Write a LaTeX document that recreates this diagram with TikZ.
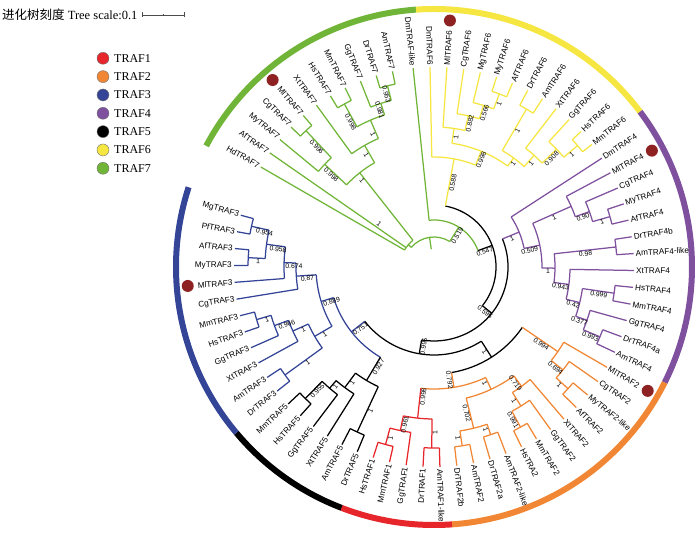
\documentclass[tikz,border=0pt]{standalone}
\usepackage{fontspec}
\setmainfont{Liberation Serif}
\newfontfamily\treefont{Liberation Sans}
\newfontfamily\cjkfont{Noto Sans CJK SC}
\usetikzlibrary{calc}

\definecolor{t1}{RGB}{230,38,42}
\definecolor{t2}{RGB}{241,135,52}
\definecolor{t3}{RGB}{52,68,150}
\definecolor{t4}{RGB}{126,80,158}
\definecolor{t5}{RGB}{0,0,0}
\definecolor{t6}{RGB}{246,230,66}
\definecolor{t7}{RGB}{112,181,56}
\definecolor{dotred}{RGB}{142,34,34}

\tikzset{
  branch/.style={line width=1.25pt},
  ring/.style={line width=6pt},
  leaflab/.style={font=\treefont\fontsize{8.2}{9}\selectfont,inner sep=1pt},
  support/.style={font=\treefont\fontsize{6.8}{7}\selectfont,inner sep=0.6pt},
  reddot/.style={circle,fill=dotred,minimum size=12pt,inner sep=0pt},
  legdot/.style={circle,draw=black!55,line width=0.4pt,minimum size=12pt,inner sep=0pt},
  legtext/.style={anchor=west,font=\fontsize{12}{13}\selectfont,inner sep=0pt},
}

% leaf: name, place on the ring, colour
\newcommand\leaf[3]{%
  \pgfmathsetmacro\lfang{leafang(#2)}%
  \expandafter\xdef\csname tra#1\endcsname{\lfang}%
  \expandafter\xdef\csname trc#1\endcsname{#3}%
  \expandafter\gdef\csname trl#1\endcsname{}%
  \coordinate (#1) at (\lfang:200);
  \pgfmathsetmacro\lfflip{cos(\lfang)<0 ? 180 : 0}%
  \ifdim\lfflip pt>1pt
    \node[leaflab,rotate=\lfang+180,anchor=east] (#1-l) at (\lfang:201) {#1};%
  \else
    \node[leaflab,rotate=\lfang,anchor=west] (#1-l) at (\lfang:201) {#1};%
  \fi
}
% clade: name, colour, radius, support, radius of support, children
\newcommand\clade[6]{%
  \gdef\cfirst{}%
  \foreach \kid in {#6}{%
    \ifx\cfirst\empty\xdef\cfirst{\kid}\fi
    \xdef\clast{\kid}}%
  \edef\aone{\csname tra\cfirst\endcsname}%
  \edef\atwo{\csname tra\clast\endcsname}%
  \pgfmathsetmacro\amid{(\aone+\atwo)/2}%
  \expandafter\xdef\csname tra#1\endcsname{\amid}%
  \expandafter\xdef\csname trc#1\endcsname{#2}%
  \expandafter\gdef\csname trl#1\endcsname{#4}%
  \expandafter\xdef\csname trb#1\endcsname{#5}%
  \coordinate (#1) at (\amid:#3);
  \draw[branch,color=#2] (\aone:#3) arc[start angle=\aone,end angle=\atwo,radius=#3];
  \foreach \kid in {#6}{%
    \edef\kidang{\csname tra\kid\endcsname}%
    \edef\kidcol{\csname trc\kid\endcsname}%
    \edef\kidlab{\csname trl\kid\endcsname}%
    \draw[branch,color=\kidcol] (\kidang:#3) -- (\kid);
    \ifx\kidlab\empty\else
      \edef\kidrad{\csname trb\kid\endcsname}%
      \pgfmathsetmacro\kidflip{cos(\kidang)<0 ? 180 : 0}%
      \node[support,rotate=\kidang+\kidflip,anchor=north] (\kid-s) at (\kidang:\kidrad) {\kidlab};
    \fi}%
}

\begin{document}
\begin{tikzpicture}[x=1pt,y=1pt,
  declare function={leafang(\q)=(\q<61.5)*(96-4.85*(\q-1))+(\q>61.5)*(150-4.8*(\q-62));}]
\useasboundingbox (-434,-267) rectangle (266,267);

% title and scale
\node[anchor=west,inner sep=0pt,font=\fontsize{12.5}{13}\selectfont] (title) at (-432,252) {{\cjkfont 进化树刻度} Tree scale:0.1};
\coordinate (sb1) at (-292,252);
\coordinate (sb2) at (-250,252);
\draw[black!70,line width=0.6pt] (sb1) -- (sb2);
\draw[black!70,line width=0.6pt] ($(sb1)+(0,-2.5)$) -- ($(sb1)+(0,2.5)$);
\draw[black!70,line width=0.6pt] ($(sb2)+(0,-2.5)$) -- ($(sb2)+(0,2.5)$);
\draw[black!70,line width=0.6pt] ($(sb1)!0.5!(sb2)+(0,-1.2)$) -- ($(sb1)!0.5!(sb2)+(0,1.2)$);

% legend
\foreach \k/\c in {1/t1,2/t2,3/t3,4/t4,5/t5,6/t6,7/t7} {
  \node[legdot,fill=\c] (leg\k) at (-331,{208.7-18.33*(\k-1)}) {};
  \node[legtext] (legt\k) at (-320,{208.7-18.33*(\k-1)}) {TRAF\k};
}

% outer ring
\draw[ring,t7] (94:258) arc[start angle=94,end angle=152,radius=258];
\draw[ring,t6] (37:258) arc[start angle=37,end angle=94,radius=258];
\draw[ring,t4] (-26.6:258) arc[start angle=-26.6,end angle=37,radius=258];
\draw[ring,t2] (-86:258) arc[start angle=-86,end angle=-26.6,radius=258];
\draw[ring,t1] (-111:258) arc[start angle=-111,end angle=-86,radius=258];
\draw[ring,t5] (-140:258) arc[start angle=-140,end angle=-111,radius=258];
\draw[ring,t3] (-198:258) arc[start angle=-198,end angle=-140,radius=258];

% leaves
\leaf{DmTRAF-like}{1}{t7}
\foreach \n [count=\i from 2] in {DmTRAF6,MlTRAF6,CgTRAF6,MgTRAF6,MyTRAF6,AfTRAF6,DrTRAF6,AmTRAF6,XtTRAF6,GgTRAF6,HsTRAF6,MmTRAF6}
  {\leaf{\n}{\i}{t6}}
\foreach \n [count=\i from 14] in {DmTRAF4,MlTRAF4,CgTRAF4,MyTRAF4,AfTRAF4,DrTRAF4b,AmTRAF4-like,XtTRAF4,HsTRAF4,MmTRAF4,GgTRAF4,DrTRAF4a,AmTRAF4}
  {\leaf{\n}{\i}{t4}}
\foreach \n [count=\i from 27] in {MlTRAF2,CgTRAF2,MyTRAF2-like,AfTRAF2,XtTRAF2,GgTRAF2,MmTRAF2,HsTRA2,AmTRAF2-like,DrTRAF2a,AmTRAF2,DrTRAF2b}
  {\leaf{\n}{\i}{t2}}
\foreach \n [count=\i from 39] in {AmTRAF1-like,DrTRAF1,GgTRAF1,MmTRAF1,HsTRAF1}
  {\leaf{\n}{\i}{t1}}
\foreach \n [count=\i from 44] in {DrTRAF5,AmTRAF5,XtTRAF5,GgTRAF5,HsTRAF5,MmTRAF5}
  {\leaf{\n}{\i}{t5}}
\foreach \n [count=\i from 50] in {DrTRAF3,AmTRAF3,XtTRAF3,GgTRAF3,HsTRAF3,MmTRAF3,CgTRAF3,MlTRAF3,MyTRAF3,AfTRAF3,PfTRAF3,MgTRAF3}
  {\leaf{\n}{\i}{t3}}
\foreach \n [count=\i from 62] in {HdTRAF7,AfTRAF7,MyTRAF7,CgTRAF7,MlTRAF7,XtTRAF7,HsTRAF7,MmTRAF7,GgTRAF7,DrTRAF7,AmTRAF7}
  {\leaf{\n}{\i}{t7}}

% TRAF7
\clade{n7a}{t7}{187}{0.953}{179}{DrTRAF7,AmTRAF7}
\clade{n7b}{t7}{172}{0.981}{166}{GgTRAF7,n7a}
\clade{n7c}{t7}{186}{0.998}{167}{HsTRAF7,MmTRAF7}
\clade{n7d}{t7}{160}{1}{146}{n7c,n7b}
\clade{n7e}{t7}{140}{1}{131}{XtTRAF7,n7d}
\clade{n7f}{t7}{187}{0.996}{168}{CgTRAF7,MlTRAF7}
\clade{n7g}{t7}{150}{0.998}{138}{MyTRAF7,n7f}
\clade{n7h}{t7}{120}{1}{112}{n7g,n7e}
\clade{X}{t7}{34}{1}{70}{HdTRAF7,AfTRAF7,n7h}

% TRAF6
\clade{n6a}{t6}{185}{1}{176}{MyTRAF6,AfTRAF6}
\clade{n6b}{t6}{169}{0.566}{162}{MgTRAF6,n6a}
\clade{n6c}{t6}{155}{0.882}{148}{CgTRAF6,n6b}
\clade{n6d}{t6}{140}{1}{132}{MlTRAF6,n6c}
\clade{n6f}{t6}{183}{1}{160}{DrTRAF6,AmTRAF6}
\clade{n6g}{t6}{188}{1}{178}{HsTRAF6,MmTRAF6}
\clade{n6h}{t6}{170}{0.908}{160}{GgTRAF6,n6g}
\clade{n6i}{t6}{150}{1}{142}{XtTRAF6,n6h}
\clade{V6}{t6}{135}{1}{130}{n6f,n6i}
\clade{Y1}{t6}{125}{0.998}{117}{n6d,V6}
\clade{Y0}{t6}{110}{0.588}{86}{DmTRAF6,Y1}

% TRAF4
\clade{n4a}{t4}{183}{1}{174}{MyTRAF4,AfTRAF4}
\clade{n4b}{t4}{165}{0.90}{157}{CgTRAF4,n4a}
\clade{n4c}{t4}{150}{1}{130}{MlTRAF4,n4b}
\clade{n4d}{t4}{183}{0.98}{152}{DrTRAF4b,AmTRAF4-like}
\clade{n4e}{t4}{182}{0.999}{167}{HsTRAF4,MmTRAF4}
\clade{n4f}{t4}{180}{0.993}{171}{DrTRAF4a,AmTRAF4}
\clade{n4g}{t4}{162}{0.377}{155}{GgTRAF4,n4f}
\clade{n4h}{t4}{150}{0.42}{144}{n4e,n4g}
\clade{n4i}{t4}{136}{0.943}{128}{XtTRAF4,n4h}
\clade{n4j}{t4}{121}{1}{114}{n4d,n4i}
\clade{n4k}{t4}{108}{0.509}{97}{n4c,n4j}
\clade{P4}{t4}{92}{1}{83}{DmTRAF4,n4k}

% TRAF2 and TRAF1
\clade{n2a}{t2}{181}{1}{172}{MyTRAF2-like,AfTRAF2}
\clade{n2b}{t2}{165}{0.694}{158}{CgTRAF2,n2a}
\clade{n2c}{t2}{150}{0.994}{132}{MlTRAF2,n2b}
\clade{o2a}{t2}{182}{0.991}{172}{MmTRAF2,HsTRA2}
\clade{o2b}{t2}{164}{1}{156}{GgTRAF2,o2a}
\clade{o2c}{t2}{148}{0.719}{142}{XtTRAF2,o2b}
\clade{o2d}{t2}{177}{1}{171}{AmTRAF2-like,DrTRAF2a}
\clade{o2e}{t2}{181}{1}{173}{AmTRAF2,DrTRAF2b}
\clade{o2f}{t2}{166}{0.702}{150}{o2d,o2e}
\clade{O2}{t2}{135}{1}{127}{o2c,o2f}
\clade{r1a}{t1}{184}{1}{176}{MmTRAF1,HsTRAF1}
\clade{r1b}{t1}{167}{0.961}{160}{GgTRAF1,r1a}
\clade{r1c}{t1}{181}{1}{166}{AmTRAF1-like,DrTRAF1}
\clade{R1}{t1}{152}{0.998}{130}{r1c,r1b}
\clade{O1}{t2}{122}{0.792}{114}{O2,R1}
\clade{N21}{t5}{107}{1}{99}{n2c,O1}

% TRAF5
\clade{t5a}{t5}{184}{0.955}{170}{HsTRAF5,MmTRAF5}
\clade{t5b}{t5}{160}{1}{155}{GgTRAF5,t5a}
\clade{t5c}{t5}{150}{1}{142}{XtTRAF5,t5b}
\clade{t5d}{t5}{182}{1}{157}{DrTRAF5,AmTRAF5}
\clade{T5}{t5}{132}{0.927}{114}{t5c,t5d}

% TRAF3
\clade{u3a}{t3}{187}{0.954}{173}{PfTRAF3,MgTRAF3}
\clade{u3b}{t3}{186}{1}{176}{MyTRAF3,AfTRAF3}
\clade{u3c}{t3}{169}{0.958}{157}{u3b,u3a}
\clade{u3d}{t3}{150}{0.674}{140}{MlTRAF3,u3c}
\clade{u3e}{t3}{138}{0.87}{127}{CgTRAF3,u3d}
\clade{u3f}{t3}{185}{1}{175}{HsTRAF3,MmTRAF3}
\clade{u3g}{t3}{170}{0.966}{158}{GgTRAF3,u3f}
\clade{u3h}{t3}{155}{1}{145}{XtTRAF3,u3g}
\clade{u3i}{t3}{184}{1}{158}{DrTRAF3,AmTRAF3}
\clade{u3j}{t3}{138}{1}{128}{u3i,u3h}
\clade{U3}{t3}{118}{0.889}{108}{u3e,u3j}
\clade{BT}{t3}{105}{0.751}{96}{U3,T5}

% backbone
\clade{W}{t5}{88}{0.995}{80}{N21,BT}
\clade{B3}{t5}{74}{0.595}{68}{P4,W}
\clade{B1}{t5}{62}{0.547}{53}{Y0,B3}
\clade{G1}{t7}{47}{0.519}{39}{DmTRAF-like,B1}
\clade{G0}{t7}{30}{}{0}{X,G1}
\coordinate (root) at ($(0,0)!0.6!(G0)$);
\draw[branch,t7] (root) -- (G0);

% marked sequences
\node[reddot] (dot6) at ({leafang(3)}:247) {};
\node[reddot] (dot4) at ({leafang(15)}:247) {};
\node[reddot] (dot2) at ({leafang(27)}:247) {};
\node[reddot] (dot3) at ({leafang(57)}:247) {};
\node[reddot] (dot7) at ({leafang(66)}:247) {};
\end{tikzpicture}
\end{document}
